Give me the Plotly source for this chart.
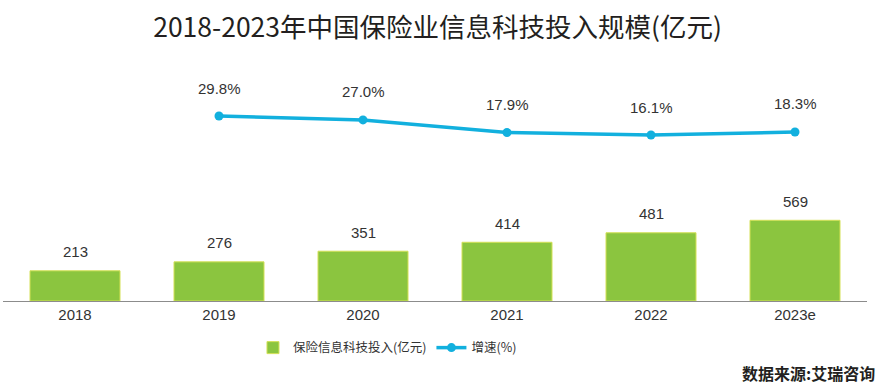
import plotly.graph_objects as go

years = ["2018", "2019", "2020", "2021", "2022", "2023e"]
invest = [213, 276, 351, 414, 481, 569]
growth_years = ["2019", "2020", "2021", "2022", "2023e"]
growth = [29.8, 27.0, 17.9, 16.1, 18.3]
growth_labels = ["29.8%", "27.0%", "17.9%", "16.1%", "18.3%"]

num_font = "Liberation Sans, Arial, sans-serif"
cjk_font = "Noto Sans CJK SC, sans-serif"
text_color = "#333333"

fig = go.Figure()
fig.add_trace(go.Bar(
    x=years, y=invest, name="保险信息科技投入(亿元)",
    marker=dict(color="#8BC53F", line=dict(color="#D4E157", width=1)),
    yaxis="y",
))
fig.add_trace(go.Scatter(
    x=growth_years, y=growth, name="增速(%)", mode="lines+markers",
    line=dict(color="#12B0DE", width=3.5),
    marker=dict(color="#12B0DE", size=9),
    yaxis="y2",
))

annotations = []
for x, v in zip(years, invest):
    annotations.append(dict(x=years.index(x), y=v, xref="x", yref="y", text=str(v),
                            showarrow=False, yshift=19, yanchor="middle",
                            font=dict(family=num_font, size=15, color=text_color)))
for x, v, t in zip(growth_years, growth, growth_labels):
    annotations.append(dict(x=years.index(x), y=v, xref="x", yref="y2", text=t,
                            showarrow=False, yshift=28, yanchor="middle",
                            font=dict(family=num_font, size=15, color=text_color)))
annotations.append(dict(x=1.012, y=-0.30, xref="paper", yref="paper",
                        text="<b>数据来源:艾瑞咨询</b>", showarrow=False,
                        xanchor="right", yanchor="middle",
                        font=dict(family=cjk_font, size=16, color="#231f20")))

fig.update_layout(
    width=893, height=385,
    margin=dict(l=3, r=26, t=60, b=84),
    paper_bgcolor="white", plot_bgcolor="white",
    title=dict(text="2018-2023年中国保险业信息科技投入规模(亿元)",
               x=0.49, xanchor="center", y=1 - 28 / 385, yref="container",
               yanchor="middle",
               font=dict(family=cjk_font, size=26.5, color="#231f20")),
    bargap=0.375,
    xaxis=dict(type="category", range=[-0.5, len(years) - 0.5],
               showgrid=False, zeroline=False, showline=True,
               linecolor="#8c8c8c", linewidth=1.2, ticks="",
               tickfont=dict(family=num_font, size=15, color=text_color)),
    yaxis=dict(range=[0, 1699], visible=False, showgrid=False),
    yaxis2=dict(range=[-103.3, 70.1], overlaying="y", visible=False,
                showgrid=False),
    showlegend=True,
    legend=dict(orientation="h", x=0.445, xanchor="center", y=-0.195,
                yanchor="middle",
                font=dict(family=cjk_font, size=12.5, color=text_color),
                itemwidth=30, traceorder="normal"),
    annotations=annotations,
)

fig.write_html("out.html", config={"displayModeBar": False},
               post_script="document.body.style.margin='0';document.body.style.overflow='hidden';")
